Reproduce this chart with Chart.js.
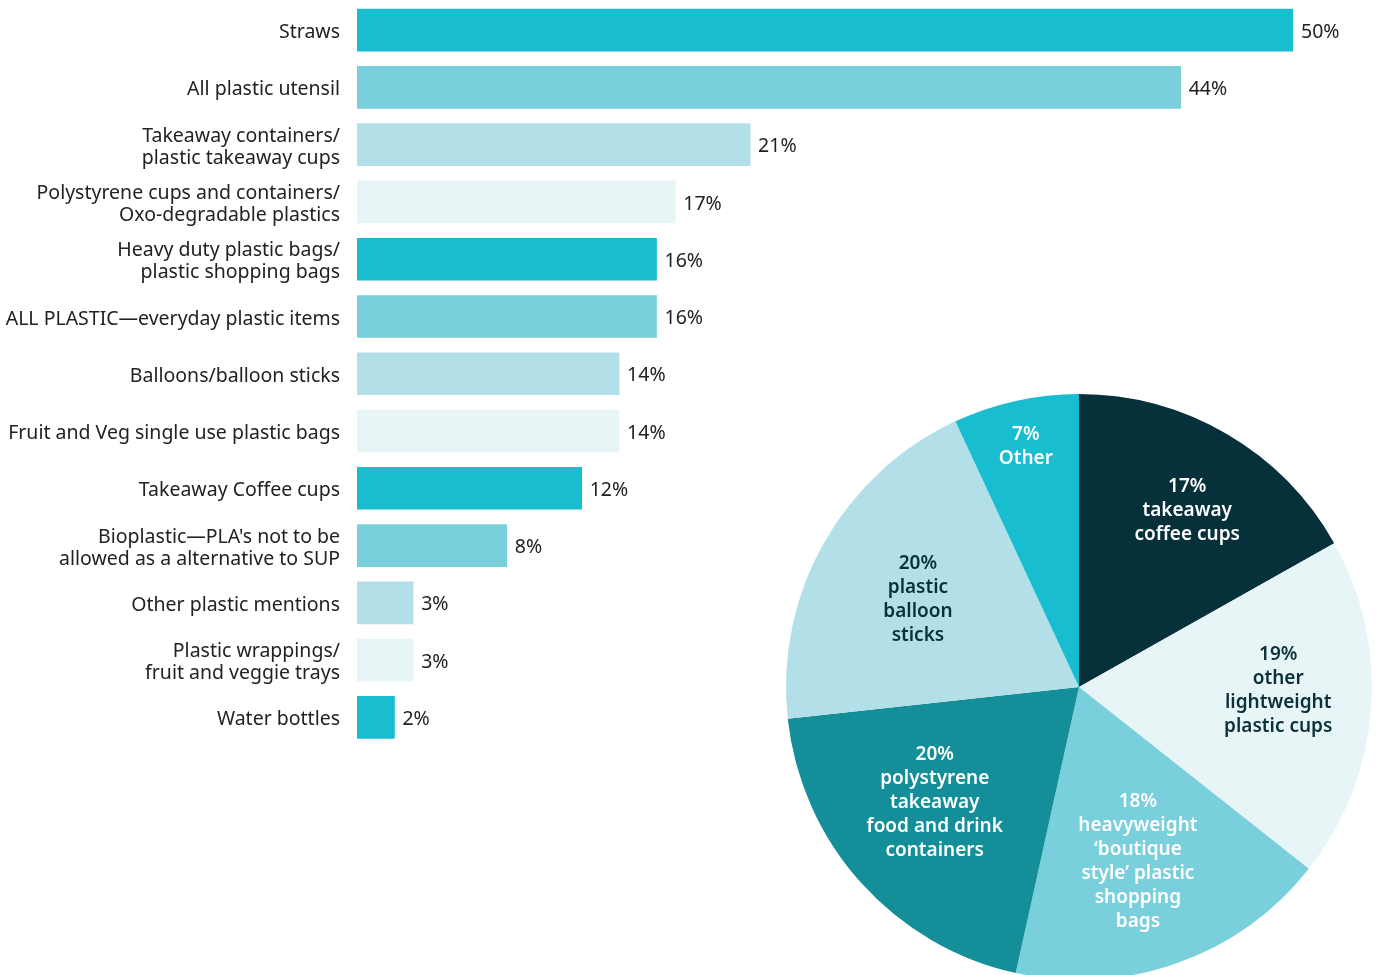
<!DOCTYPE html>
<html>
<head>
<meta charset="utf-8">
<script src="https://cdn.jsdelivr.net/npm/chart.js@4"></script>
<style>
  html, body { margin:0; padding:0; width:1381px; height:975px; overflow:hidden; background:#fff; }
  #bar { position:absolute; left:0; top:0; }
  #pie { position:absolute; left:769px; top:377px; }
</style>
</head>
<body>
<canvas id="bar" width="1381" height="746"></canvas>
<canvas id="pie" width="620" height="620"></canvas>
<script>
const categories = [
  "Straws",
  "All plastic utensil",
  ["Takeaway containers/", "plastic takeaway cups"],
  ["Polystyrene cups and containers/", "Oxo-degradable plastics"],
  ["Heavy duty plastic bags/", "plastic shopping bags"],
  "ALL PLASTIC\u2014everyday plastic items",
  "Balloons/balloon sticks",
  "Fruit and Veg single use plastic bags",
  "Takeaway Coffee cups",
  ["Bioplastic\u2014PLA's not to be", "allowed as a alternative to SUP"],
  "Other plastic mentions",
  ["Plastic wrappings/", "fruit and veggie trays"],
  "Water bottles"
];
const values = [50, 44, 21, 17, 16, 16, 14, 14, 12, 8, 3, 3, 2];

const pieLabels = [
  ["17%", "takeaway", "coffee cups"],
  ["19%", "other", "lightweight", "plastic cups"],
  ["18%", "heavyweight", "\u2018boutique", "style\u2019 plastic", "shopping", "bags"],
  ["20%", "polystyrene", "takeaway", "food and drink", "containers"],
  ["20%", "plastic", "balloon", "sticks"],
  ["7%", "Other"]
];
const pieValues = [17, 19, 18, 20, 20, 7];

const FONT = "'Noto Sans', 'Open Sans', sans-serif";
const barCycle = ["#19bdd0", "#79cfdc", "#b3e0e8", "#e8f5f7"];
const pieColors = ["#06303a", "#e8f5f7", "#79cfdc", "#148f99", "#b3e0e8", "#19bdd0"];
const pieTextColors = ["#ffffff", "#0a3038", "#ffffff", "#ffffff", "#0a3038", "#ffffff"];
const pieRadial = [0.705, 0.68, 0.63, 0.63, 0.625, 0.84];
const pieAngleShift = [1.3, -3.5, 1.0, 3.3, -1.0, 0];

const barLabelPlugin = {
  id: 'barLabels',
  afterDatasetsDraw(chart) {
    const ctx = chart.ctx;
    const meta = chart.getDatasetMeta(0);
    ctx.save();
    ctx.font = "19.5px " + FONT;
    ctx.fillStyle = "#222";
    ctx.textAlign = "left";
    ctx.textBaseline = "middle";
    meta.data.forEach((el, i) => {
      ctx.fillText(values[i] + "%", el.x + 8, el.y + 2);
    });
    ctx.restore();
  }
};

new Chart(document.getElementById('bar'), {
  type: 'bar',
  data: {
    labels: categories,
    datasets: [{
      data: values,
      backgroundColor: values.map((v, i) => barCycle[i % 4]),
      borderWidth: 0,
      barThickness: 42
    }]
  },
  options: {
    indexAxis: 'y',
    responsive: false,
    animation: false,
    devicePixelRatio: 1,
    layout: { padding: { top: 1.5, right: 88, left: 0, bottom: 0 } },
    plugins: { legend: { display: false }, tooltip: { enabled: false } },
    scales: {
      x: { display: false, min: 0, max: 50 },
      y: {
        grid: { display: false, drawTicks: false },
        border: { display: false },
        ticks: {
          padding: 17,
          color: "#222",
          font: { family: FONT, size: 19.5, lineHeight: 22 / 19.5 }
        },
        afterFit(scale) {
          scale.width = 357;
          scale.paddingTop = 0;
          scale.paddingBottom = 0;
        },
        afterUpdate(scale) {
          if (!scale._shiftPatched) {
            const orig = scale.drawLabels;
            scale.drawLabels = function (ca) {
              this.ctx.save();
              this.ctx.translate(0, 2.5);
              orig.call(this, ca);
              this.ctx.restore();
            };
            scale._shiftPatched = true;
          }
        }
      }
    }
  },
  plugins: [barLabelPlugin]
});

const pieLabelPlugin = {
  id: 'pieLabels',
  afterDatasetsDraw(chart) {
    const ctx = chart.ctx;
    const meta = chart.getDatasetMeta(0);
    ctx.save();
    ctx.font = "600 19px " + FONT;
    ctx.textAlign = "center";
    ctx.textBaseline = "middle";
    const lh = 24;
    meta.data.forEach((arc, i) => {
      const mid = (arc.startAngle + arc.endAngle) / 2 + pieAngleShift[i] * Math.PI / 180;
      const r = arc.outerRadius * pieRadial[i];
      const cx = arc.x + Math.cos(mid) * r;
      const cy = arc.y + Math.sin(mid) * r;
      const lines = pieLabels[i];
      ctx.fillStyle = pieTextColors[i];
      const y0 = cy - (lines.length - 1) * lh / 2;
      lines.forEach((t, j) => ctx.fillText(t, cx, y0 + j * lh));
    });
    ctx.restore();
  }
};

new Chart(document.getElementById('pie'), {
  type: 'pie',
  data: {
    labels: pieLabels.map(l => l.join(' ')),
    datasets: [{
      data: pieValues,
      backgroundColor: pieColors,
      borderWidth: 0
    }]
  },
  options: {
    responsive: false,
    animation: false,
    devicePixelRatio: 1,
    layout: { padding: 17 },
    plugins: { legend: { display: false }, tooltip: { enabled: false } }
  },
  plugins: [pieLabelPlugin]
});
</script>
</body>
</html>
